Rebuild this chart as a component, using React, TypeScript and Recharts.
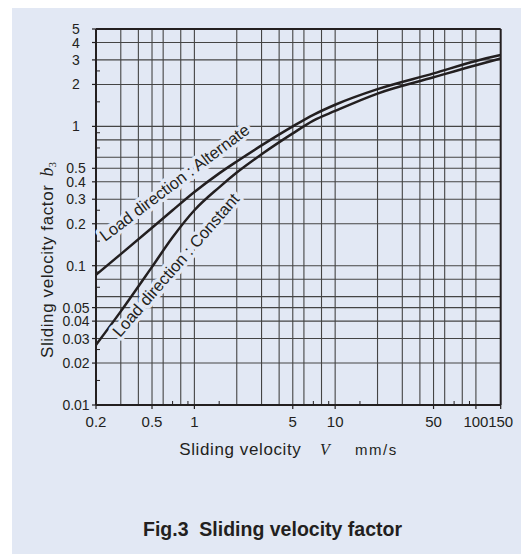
import React from "react";
import { LineChart, Line, XAxis, YAxis, ReferenceLine, ReferenceDot } from "recharts";

// sliding velocity V (mm/s) and factor b3
const velocity = [0.2, 0.3, 0.5, 0.7, 1, 1.5, 2, 3, 5, 7, 10, 20, 50, 100, 150];
const alternateFactor = [0.086, 0.121, 0.187, 0.25, 0.338, 0.46, 0.56, 0.73, 1.0, 1.21, 1.43, 1.85, 2.4, 2.95, 3.25];
const constantFactor = [0.027, 0.047, 0.098, 0.16, 0.25, 0.365, 0.466, 0.63, 0.89, 1.1, 1.29, 1.72, 2.25, 2.75, 3.07];

const xTickLabels = [0.2, 0.5, 1, 5, 10, 50, 100, 150];
const xMinorTicks = [0.7, 0.9, 1.5, 7, 9, 15, 70, 90];
const xGrid = [0.3, 0.4, 0.5, 0.6, 0.8, 1, 2, 3, 4, 5, 6, 8, 10, 20, 30, 40, 50, 60, 80, 100];

const yTickLabels = [0.01, 0.02, 0.03, 0.04, 0.05, 0.1, 0.2, 0.3, 0.4, 0.5, 1, 2, 3, 4, 5];
const yMinorTicks = [0.015, 0.025, 0.07, 0.09, 0.15, 0.25, 0.7, 0.9, 1.5, 2.5];
const yGrid = [0.02, 0.03, 0.04, 0.05, 0.06, 0.08, 0.1, 0.2, 0.3, 0.4, 0.5, 0.6, 0.8, 1, 2, 3, 4];

const alternateData = velocity.map((v, i) => ({ v, b: alternateFactor[i] }));
const constantData = velocity.map((v, i) => ({ v, b: constantFactor[i] }));

const ink = "#231f20";
const gridInk = "#444444";
const panel = "#e2e8f4";
const font = '"Liberation Sans", Arial, Helvetica, sans-serif';
const serif = '"Liberation Serif", "Times New Roman", serif';

function XTick({ x, y, payload }: any) {
  const v = payload.value;
  if (xTickLabels.includes(v)) {
    return (
      <g>
        <line x1={x} x2={x} y1={y} y2={y + 4} stroke={ink} strokeWidth={1.2} />
        <text x={x} y={y + 22} textAnchor="middle" fontSize={15} fill={ink} fontFamily={font}>
          {String(v)}
        </text>
      </g>
    );
  }
  return <line x1={x} x2={x} y1={y} y2={y - 4} stroke={ink} strokeWidth={1} />;
}

function YTick({ x, y, payload }: any) {
  const v = payload.value;
  if (yTickLabels.includes(v)) {
    return (
      <g>
        <line x1={x - 4} x2={x} y1={y} y2={y} stroke={ink} strokeWidth={1.2} />
        <text x={x - 20} y={y + 5} textAnchor="middle" fontSize={14} fill={ink} fontFamily={font}>
          {String(v)}
        </text>
      </g>
    );
  }
  return <line x1={x} x2={x + 4} y1={y} y2={y} stroke={ink} strokeWidth={1} />;
}

const xTitle = () => (
  <text x={179.3} y={455} fontSize={17} letterSpacing={0.6} fill={ink} fontFamily={font}>
    Sliding velocity
    <tspan x={320} fontFamily={serif} fontStyle="italic" fontSize={16} letterSpacing={0}>
      V
    </tspan>
    <tspan x={355} fontSize={15} letterSpacing={1.5}>
      mm/s
    </tspan>
  </text>
);

const yTitle = () => (
  <text
    x={53}
    y={358}
    transform="rotate(-90, 53, 358)"
    fontSize={17}
    letterSpacing={0.6}
    fill={ink}
    fontFamily={font}
  >
    Sliding velocity factor
    <tspan dx={8} fontFamily={serif} fontStyle="italic" fontSize={18} letterSpacing={0}>
      b
    </tspan>
    <tspan fontFamily={serif} fontSize={11} dy={3} letterSpacing={0}>
      3
    </tspan>
  </text>
);

function curveLabel(text: string, angle: number) {
  return ({ cx, cy }: any) => (
    <text
      x={cx}
      y={cy}
      transform={`rotate(${angle}, ${cx}, ${cy})`}
      fontSize={16.5}
      fill={ink}
      fontFamily={font}
      stroke={panel}
      strokeWidth={7}
      strokeLinejoin="round"
      paintOrder="stroke"
    >
      {text}
    </text>
  );
}

export default function App() {
  return (
    <div style={{ position: "absolute", left: 0, top: 0, width: 521, height: 555, background: "#fff", overflow: "hidden" }}>
      <div style={{ position: "absolute", left: 12, top: 8, width: 509, height: 546, background: panel }} />
      <div style={{ position: "absolute", left: 0, top: 0 }}>
        <LineChart width={521} height={555} margin={{ top: 29, right: 20.3, bottom: 120, left: 36 }}>
          <XAxis
            type="number"
            dataKey="v"
            scale="log"
            domain={[0.2, 150]}
            allowDataOverflow
            ticks={[...xTickLabels, ...xMinorTicks]}
            interval={0}
            tick={<XTick />}
            tickLine={false}
            tickSize={0}
            tickMargin={0}
            height={30}
            axisLine={{ stroke: ink, strokeWidth: 2 }}
            label={xTitle}
          />
          <YAxis
            type="number"
            scale="log"
            domain={[0.01, 5]}
            allowDataOverflow
            ticks={[...yTickLabels, ...yMinorTicks]}
            interval={0}
            tick={<YTick />}
            tickLine={false}
            tickSize={0}
            tickMargin={0}
            width={60}
            axisLine={{ stroke: ink, strokeWidth: 2 }}
            label={yTitle}
          />
          {xGrid.map((v) => (
            <ReferenceLine key={`gx-${v}`} x={v} stroke={gridInk} strokeWidth={1.1} />
          ))}
          {yGrid.map((v) => (
            <ReferenceLine key={`gy-${v}`} y={v} stroke={gridInk} strokeWidth={1.1} />
          ))}
          <ReferenceLine x={150} stroke={ink} strokeWidth={2} />
          <ReferenceLine y={5} stroke={ink} strokeWidth={2} />
          <ReferenceDot x={0.232} y={0.148} r={0} shape={curveLabel("Load direction : Alternate", -37)} />
          <ReferenceDot x={0.296} y={0.0303} r={0} shape={curveLabel("Load direction : Constant", -49)} />
          <Line data={alternateData} dataKey="b" type="monotone" stroke={ink} strokeWidth={2.5} dot={false} isAnimationActive={false} />
          <Line data={constantData} dataKey="b" type="monotone" stroke={ink} strokeWidth={2.5} dot={false} isAnimationActive={false} />
        </LineChart>
      </div>
      <svg width={521} height={555} style={{ position: "absolute", left: 0, top: 0, pointerEvents: "none" }}>
        <text x={143} y={536} fontSize={19.5} fontWeight="bold" fill={ink} fontFamily={font}>
          Fig.3{"\u00a0\u00a0"}Sliding velocity factor
        </text>
      </svg>
    </div>
  );
}
